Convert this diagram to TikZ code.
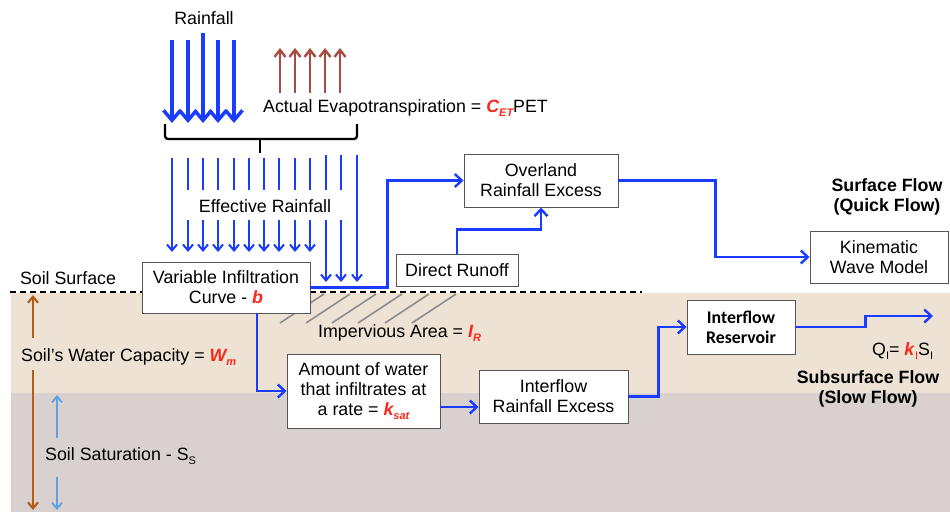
\documentclass[tikz,border=0pt]{standalone}
\usepackage{fontspec}
\setmainfont{Liberation Sans}
\newfontfamily\carlito{Carlito}
\usetikzlibrary{arrows.meta,calc}
\definecolor{fblue}{RGB}{25,60,255}
\definecolor{vred}{RGB}{250,40,25}
\definecolor{evbrown}{RGB}{170,75,65}
\definecolor{soilbrown}{RGB}{180,95,25}
\definecolor{ltblue}{RGB}{95,160,225}
\definecolor{beige}{RGB}{238,226,213}
\definecolor{soilgray}{RGB}{216,209,207}
\definecolor{boxgray}{RGB}{85,85,85}
\definecolor{hatchgray}{RGB}{140,140,140}
\newcommand\vr[1]{\textcolor{vred}{\textbf{\textit{#1}}}}
\newcommand\sbs[1]{\raisebox{-0.45ex}{\fontsize{11}{11}\selectfont #1}}
\begin{document}
\begin{tikzpicture}[x=1pt,y=-1pt,
  font=\fontsize{17.8}{20}\selectfont,
  box/.style={draw=boxgray, line width=0.9pt, fill=white, align=center, inner sep=0pt},
  txt/.style={inner sep=0pt, align=center},
  conn/.style={draw=fblue, line width=2.4pt, -{Straight Barb[length=7pt,width=13pt]}},
  rainarr/.style={draw=fblue, line width=3.5pt, -{Straight Barb[length=10pt,width=17pt]}},
  effarr/.style={draw=fblue, line width=2pt, -{Straight Barb[length=6pt,width=10pt]}},
  effline/.style={draw=fblue, line width=2pt},
  evarr/.style={draw=evbrown, line width=2.4pt, -{Straight Barb[length=7pt,width=11pt]}},
  hatch/.style={draw=hatchgray, line width=1.6pt}]
\useasboundingbox (0,0) rectangle (950,512);
% soil layers
\fill[beige] (11,293) rectangle (950,393);
\fill[soilgray] (11,393) rectangle (950,512);
\draw[black, line width=1.8pt, dash pattern=on 6pt off 4pt] (10,292) -- (642,292);
% impervious hatch
\foreach \x in {280,306,332,358,385,412} \draw[hatch] (\x,323) -- (\x+44,294);
% rainfall
\node[txt] (rain) at (204,18) {Rainfall};
\foreach \x/\t in {172/40,188/40,203/33,218/40,234/40} \draw[rainarr] (\x,\t) -- (\x,123);
% evapotranspiration
\foreach \x in {280,295,310,325,340} \draw[evarr] (\x,93) -- (\x,48);
\node[txt, anchor=west] (aet) at (263,108) {Actual Evapotranspiration = \vr{C\sbs{ET}}PET};
% brace
\draw[black, line width=2.3pt, rounded corners=3pt] (165,124) -- (165,139) -- (357,139) -- (357,124);
\draw[black, line width=2.3pt] (260,139) -- (260,153);
% effective rainfall
\node[txt] (eff) at (265,206) {Effective Rainfall};
\draw[effarr] (172,158) -- (172,252);
\foreach \x in {188,203,218,234,249,264,279,295,310} {
  \draw[effline] (\x,158) -- (\x,190);
  \draw[effarr] (\x,220) -- (\x,252);
}
\foreach \x in {326,341} {
  \draw[effline] (\x,155) -- (\x,190);
  \draw[effarr] (\x,220) -- (\x,282);
}
\draw[effarr] (357,155) -- (357,282);
% labels
\node[txt] (ss) at (68,278) {Soil Surface};
\node[txt, anchor=west] (wm) at (21,357) {Soil’s Water Capacity = \vr{W\sbs{m}}};
\node[txt, anchor=west] (sat) at (45,456) {Soil Saturation - S\sbs{S}};
\node[txt, anchor=west] (imp) at (318,333) {Impervious Area = \vr{I\sbs{R}}};
\node[txt, font=\fontsize{17.8}{20}\selectfont\bfseries] (sf) at (887,197) {Surface Flow\\(Quick Flow)};
\node[txt, font=\fontsize{17.8}{20}\selectfont\bfseries] (subf) at (868,389) {Subsurface Flow\\(Slow Flow)};
\node[txt, anchor=west] (qi) at (872,351) {Q\sbs{I}= \vr{k}\textcolor{vred}{\sbs{I}}S\sbs{I}};
% soil arrows
\draw[soilbrown, line width=2.2pt, -{Straight Barb[length=6pt,width=10pt]}] (33,338) -- (33,295);
\draw[soilbrown, line width=2.2pt, -{Straight Barb[length=6pt,width=10pt]}] (33,370) -- (33,510);
\draw[ltblue, line width=1.8pt, -{Straight Barb[length=6pt,width=10pt]}] (57,438) -- (57,395);
\draw[ltblue, line width=1.8pt, -{Straight Barb[length=6pt,width=10pt]}] (57,477) -- (57,510);
% boxes
\node[box, minimum width=168pt, minimum height=51pt] (vic) at (226,287.5) {Variable Infiltration\\Curve - \vr{b}};
\node[box, minimum width=154pt, minimum height=53pt] (over) at (541,180.5) {Overland\\Rainfall Excess};
\node[box, minimum width=122pt, minimum height=32pt] (dr) at (457,270) {Direct Runoff};
\node[box, minimum width=138pt, minimum height=52pt] (kin) at (879,257) {Kinematic\\Wave Model};
\node[box, minimum width=153pt, minimum height=74pt] (amt) at (363.5,391) {Amount of water\\that infiltrates at\\a rate = \vr{k\sbs{sat}}};
\node[box, minimum width=149pt, minimum height=53pt] (ire) at (553.5,396.5) {Interflow\\Rainfall Excess};
\node[box, minimum width=108pt, minimum height=54pt, font=\carlito\fontsize{17.8}{20}\selectfont\bfseries] (res) at (741,327) {Interflow\\Reservoir};
\coordinate (out) at (933,316);
% connectors
\draw[conn] (vic.east) -- ++(77,0) |- (over.west);
\draw[conn] (dr.north) -- ++(0,-24) -| (over.south);
\draw[conn] (over.east) -- ++(97,0) |- (kin.west);
\draw[conn] ([xshift=31pt]vic.south) |- (amt.west);
\draw[conn] ([yshift=-16pt]amt.east) -- ([yshift=-16pt]amt.east -| ire.west);
\draw[conn] (ire.east) -- ++(30,0) |- (res.west);
\draw[conn] (res.east) -- ++(70,0) |- (out);
\end{tikzpicture}
\end{document}
